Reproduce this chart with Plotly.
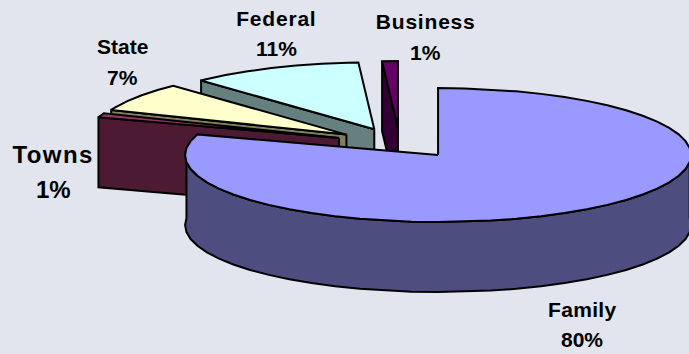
import json
import math
import plotly.graph_objects as go

# Budget shares drawn as an exploded pie with an extruded rim
categories = ["Family", "Towns", "State", "Federal", "Business"]
shares = [80, 1, 7, 11, 1]
top_colors = ["#9999FF", "#993366", "#FFFFCC", "#CCFFFF", "#660066"]
wall_colors = ["#4D4D80", "#4D1A33", "#80805F", "#668080", "#330033"]

CENTER_X, CENTER_Y = 400.0, 143.0
RADIUS_X, RADIUS_Y = 253.0, 67.0
DEPTH = 70.0
EXPLODE_X, EXPLODE_Y = 0.256, 0.223
ARC_STEP = 6.0


def rim(angle):
    a = math.radians(angle)
    return RADIUS_X * math.sin(a), -RADIUS_Y * math.cos(a)


def arc_angles(start, end):
    angles = [start]
    grid = math.floor(start / ARC_STEP + 1) * ARC_STEP
    while grid < end - 1e-6:
        angles.append(grid)
        grid += ARC_STEP
    angles.append(end)
    return angles


# Angular span and pulled-out apex of every slice, clockwise from twelve o'clock
slices = {}
running = 0.0
total = sum(shares)
for name, share, top, wall in zip(categories, shares, top_colors, wall_colors):
    start = running / total * 360
    running += share
    end = running / total * 360
    ox, oy = rim((start + end) / 2)
    slices[name] = dict(
        start=start, end=end, top=top, wall=wall,
        ax=CENTER_X + EXPLODE_X * ox, ay=CENTER_Y + EXPLODE_Y * oy,
    )

fig = go.Figure()


def add_face(xs, ys, color):
    fig.add_trace(go.Scatter(
        x=xs + xs[:1], y=ys + ys[:1], mode="lines", fill="toself",
        fillcolor=color, line=dict(color="#000000", width=2),
        showlegend=False, hoverinfo="skip",
    ))


def add_top(s):
    angles = arc_angles(s["start"], s["end"])
    pts = [rim(t) for t in angles]
    add_face([s["ax"]] + [s["ax"] + p[0] for p in pts],
             [s["ay"]] + [s["ay"] + p[1] for p in pts], s["top"])


def add_edge_wall(s, angle):
    px, py = rim(angle)
    add_face([s["ax"], s["ax"] + px, s["ax"] + px, s["ax"]],
             [s["ay"], s["ay"] + py, s["ay"] + py + DEPTH, s["ay"] + DEPTH], s["wall"])


def add_outer_wall(s, start, end):
    pts = [rim(t) for t in arc_angles(start, end)]
    xs = [s["ax"] + p[0] for p in pts]
    ys = [s["ay"] + p[1] for p in pts]
    add_face(xs + xs[::-1], ys + [y + DEPTH for y in ys[::-1]], s["wall"])


# Back to front: Business, Federal, State, Towns, then the large Family slice
for name in ["Business", "Federal", "State", "Towns"]:
    s = slices[name]
    add_edge_wall(s, s["start"])
    add_top(s)

family = slices["Family"]
add_outer_wall(family, 84.0, 276.0)
add_top(family)

# Two-line labels: category name above its share (x, name y, share y, name size, share size)
label_spots = {
    "Family": (582, 309, 339, 21, 21),
    "Towns": (53, 154, 189, 24, 24),
    "State": (122, 46, 77, 21, 21),
    "Federal": (276, 18, 48, 21, 21),
    "Business": (425, 21, 52, 21, 21),
}
for name, share in zip(categories, shares):
    x, y1, y2, name_size, share_size = label_spots[name]
    for text, y, size in ((name, y1, name_size), (f"{share}%", y2, share_size)):
        fig.add_annotation(
            x=x, y=y, text=f"<b>{text}</b>", showarrow=False,
            xanchor="center", yanchor="middle",
            font=dict(family="Liberation Sans", size=size, color="#000000"),
        )

fig.update_layout(
    width=689, height=354, margin=dict(l=0, r=0, t=0, b=0),
    paper_bgcolor="#E2E5ED", plot_bgcolor="#E2E5ED",
    xaxis=dict(visible=False, range=[0, 689], fixedrange=True),
    yaxis=dict(visible=False, range=[354, 0], fixedrange=True),
)

# Slightly open tracking on the longer category names
tracking = {"Towns": 1.4, "Federal": 0.8, "Business": 0.8, "Family": 0.3}
spacing_js = (
    f"const tracking = {json.dumps(tracking)};"
    "document.querySelectorAll('.annotation-text').forEach(t => {"
    "const gap = tracking[t.textContent];"
    "if (gap) t.style.letterSpacing = gap + 'px';"
    "});"
)
fig.write_html("out.html", config=dict(displayModeBar=False), post_script=spacing_js)
